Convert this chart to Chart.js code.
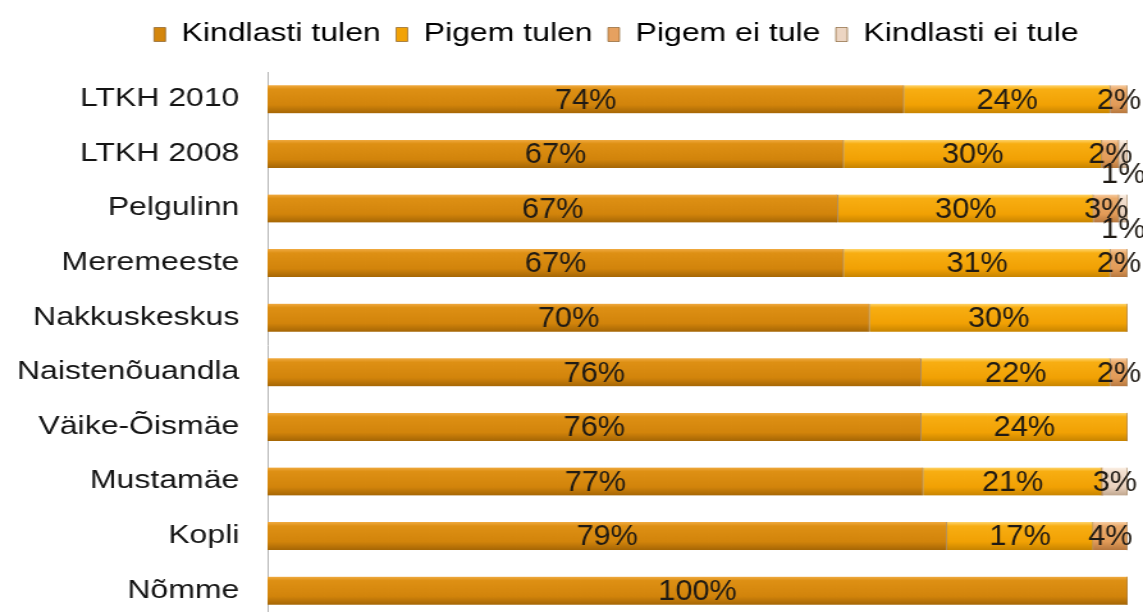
<!DOCTYPE html>
<html>
<head>
<meta charset="utf-8">
<script src="https://cdn.jsdelivr.net/npm/chart.js@4.4.1/dist/chart.umd.min.js"></script>
<style>
  html, body { margin: 0; padding: 0; background: #fff; overflow: hidden; }
  #wrap { width: 1143px; height: 612px; overflow: hidden; }
</style>
</head>
<body>
<div id="wrap">
  <!-- the source picture is stretched sideways, so the canvas is drawn narrow and widened -->
  <canvas id="chart" width="893" height="655" style="display:block;width:1143px;height:655px"></canvas>
</div>
<script>
const categories = ['LTKH 2010', 'LTKH 2008', 'Pelgulinn', 'Meremeeste', 'Nakkuskeskus',
  'Naistenõuandla', 'Väike-Õismäe', 'Mustamäe', 'Kopli', 'Nõmme']

const kindlasti_tulen   = [74, 67, 67, 67, 70, 76, 76, 77, 79, 100]
const pigem_tulen       = [24, 30, 30, 31, 30, 22, 24, 21, 17, 0]
const pigem_ei_tule     = [2, 2, 3, 2, 0, 2, 0, 0, 4, 0]
const kindlasti_ei_tule = [0, 1, 1, 0, 0, 0, 0, 3, 0, 0]

const series_names = ['Kindlasti tulen', 'Pigem tulen', 'Pigem ei tule', 'Kindlasti ei tule']
const series_values = [kindlasti_tulen, pigem_tulen, pigem_ei_tule, kindlasti_ei_tule]

// 100% stacked: each row is scaled to its own total
const row_totals = categories.map((c, i) => series_values.reduce((s, arr) => s + arr[i], 0))

const base_colors = ['#d4860c', '#f2a205', '#e6a160', '#ecd5c2']
const gradient_stops = [
  [['0', '#f0aa40'], ['0.14', '#de9014'], ['0.7', '#d2840b'], ['1', '#a56605']],
  [['0', '#ffd46a'], ['0.14', '#f8ae12'], ['0.7', '#f1a104'], ['1', '#c78400']],
  [['0', '#f7cda2'], ['0.14', '#ebab6c'], ['0.7', '#e29b58'], ['1', '#b6773e']],
  [['0', '#fcf1e6'], ['0.14', '#f2dfcf'], ['0.7', '#e9d1bd'], ['1', '#bfa68e']]
]
const bar_px = 28

function barFill(seriesIndex) {
  return function(ctx) {
    const chart = ctx.chart
    const y = chart.scales && chart.scales.y
    if (!chart.chartArea || !y || ctx.dataIndex === undefined) return base_colors[seriesIndex]
    const c = y.getPixelForValue(ctx.dataIndex)
    const g = chart.ctx.createLinearGradient(0, c - bar_px / 2, 0, c + bar_px / 2)
    gradient_stops[seriesIndex].forEach(s => g.addColorStop(parseFloat(s[0]), s[1]))
    return g
  }
}

const datasets = series_values.map(function(arr, si) {
  return {
    label: series_names[si],
    data: arr.map((v, i) => v / row_totals[i] * 100),
    raw: arr,
    backgroundColor: barFill(si),
    borderColor: 'rgba(110, 60, 0, 0.55)',
    borderWidth: {top: 0, right: 1, bottom: 0, left: 0},
    borderSkipped: false,
    categoryPercentage: 1,
    barThickness: bar_px
  }
})

// value labels are tall and narrow in the original
const valueLabels = {
  id: 'valueLabels',
  afterDatasetsDraw(chart) {
    const ctx = chart.ctx
    ctx.save()
    ctx.font = '30px "Liberation Sans", Arial, sans-serif'
    ctx.fillStyle = '#1f1a14'
    ctx.textAlign = 'center'
    ctx.textBaseline = 'middle'
    chart.data.datasets.forEach(function(ds, di) {
      chart.getDatasetMeta(di).data.forEach(function(bar, i) {
        const v = ds.raw[i]
        if (!v) return
        const x = (bar.x + bar.base) / 2
        // Excel pushed the tiny 1% labels below their bar
        const y = v <= 1 ? bar.y + 21 : bar.y + 1
        ctx.save()
        ctx.translate(x, y)
        ctx.scale(0.8, 1)
        ctx.fillText(v + '%', 0, 0)
        ctx.restore()
      })
    })
    ctx.restore()
  }
}

// move the centred legend right, as in the original
const legendShift = {
  id: 'legendShift',
  afterLayout(chart) {
    chart.legend.left += 41
    chart.legend.right += 41
  }
}

new Chart(document.getElementById('chart'), {
  type: 'bar',
  data: {
    labels: categories,
    datasets: datasets
  },
  options: {
    indexAxis: 'y',
    responsive: false,
    devicePixelRatio: 1,
    animation: false,
    layout: {
      padding: {top: 10, right: 12, bottom: 7, left: 0}
    },
    scales: {
      x: {
        position: 'top',
        stacked: true,
        min: 0,
        max: 100,
        grid: {display: false},
        border: {display: false},
        ticks: {display: false},
        afterFit: function(axis) { axis.height = 15 }
      },
      y: {
        stacked: true,
        grid: {display: false, drawTicks: false},
        border: {display: true, color: '#b4b4b4', width: 1},
        ticks: {
          padding: 22,
          color: '#141414',
          font: {family: '"Liberation Sans", Arial, sans-serif', size: 25}
        },
        afterFit: function(axis) { axis.width = 209 }
      }
    },
    plugins: {
      tooltip: {enabled: false},
      legend: {
        position: 'top',
        labels: {
          boxWidth: 9,
          boxHeight: 14,
          padding: 12,
          color: '#141414',
          font: {family: '"Liberation Sans", Arial, sans-serif', size: 25},
          generateLabels: function(chart) {
            return chart.data.datasets.map((ds, i) => ({
              text: ds.label,
              fillStyle: base_colors[i],
              strokeStyle: 'rgba(120, 80, 30, 0.6)',
              lineWidth: 1,
              hidden: false,
              datasetIndex: i
            }))
          }
        }
      }
    }
  },
  plugins: [valueLabels, legendShift]
});
</script>
</body>
</html>
